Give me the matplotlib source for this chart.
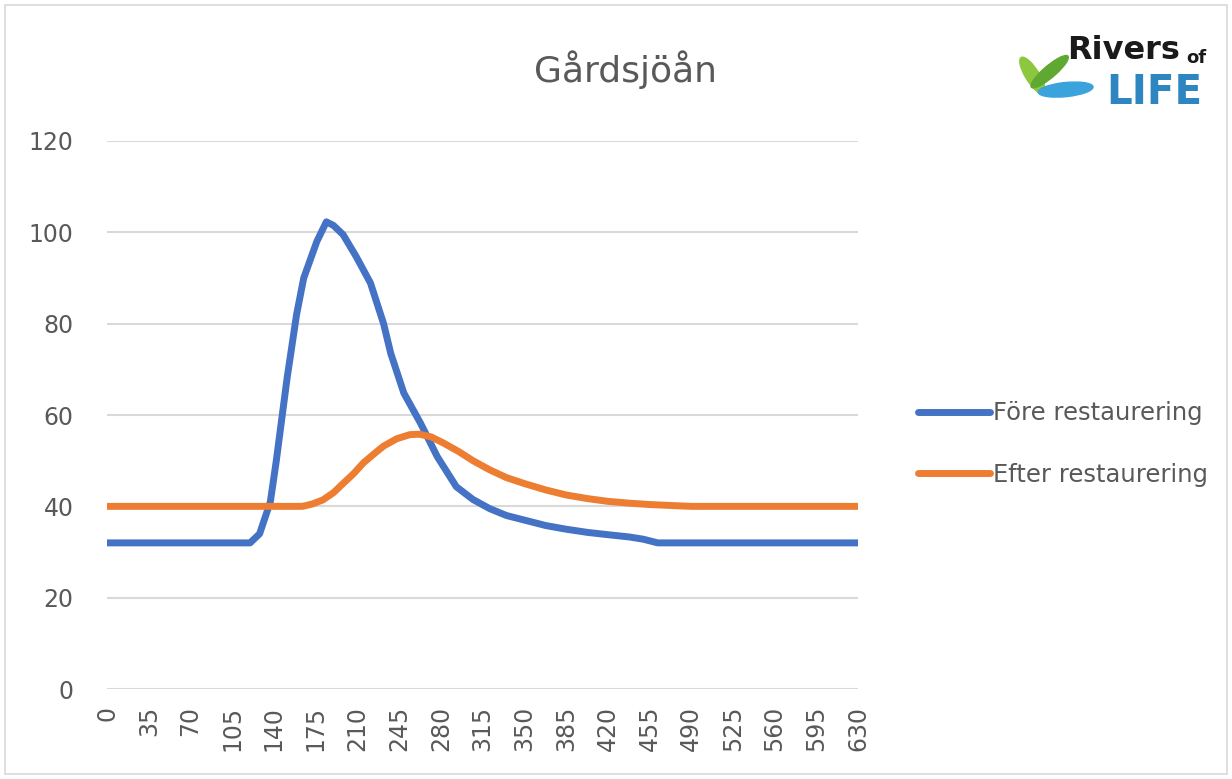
import matplotlib.pyplot as plt
from matplotlib.patches import Ellipse, Rectangle

# Gårdsjöån - flow before/after restoration
x_fore = [0, 35, 70, 105, 120, 128, 137, 142, 151, 159, 165, 176, 184, 190, 198, 209, 221, 232, 238,
          249, 263, 277, 293, 307, 321, 335, 350, 368, 385, 403, 420, 438, 450, 462, 490, 525, 560, 595, 630]
y_fore = [32, 32, 32, 32, 32, 34, 41, 50, 68, 82, 90, 98, 102.3, 101.5, 99.5, 94.7, 88.9, 80, 73.5,
          64.8, 58.2, 50.9, 44.3, 41.5, 39.5, 38, 37, 35.8, 35, 34.3, 33.8, 33.3, 32.8, 32, 32, 32, 32, 32, 32]

x_efter = [0, 35, 70, 105, 140, 164, 172, 181, 190, 198, 207, 215, 224, 232, 243, 254, 262, 272, 282,
           295, 307, 321, 335, 350, 368, 385, 403, 420, 438, 455, 472, 490, 525, 560, 595, 630]
y_efter = [40, 40, 40, 40, 40, 40, 40.5, 41.4, 43, 45, 47.2, 49.5, 51.5, 53.2, 54.8, 55.7, 55.8, 55.2, 53.9,
           52, 50, 48, 46.3, 45, 43.6, 42.5, 41.7, 41.1, 40.7, 40.4, 40.2, 40, 40, 40, 40, 40]

xticks = list(range(0, 631, 35))
yticks = [0, 20, 40, 60, 80, 100, 120]

blue = '#4472C4'
orange = '#ED7D31'
grey = '#595959'

fig = plt.figure(figsize=(12.32, 7.79), dpi=100)
fig.add_artist(Rectangle((0.004, 0.006), 0.992, 0.988, transform=fig.transFigure,
                         fill=False, edgecolor='#D9D9D9', linewidth=1.2))

ax = fig.add_axes([0.0869, 0.1155, 0.6095, 0.7035])
ax.plot(x_fore, y_fore, color=blue, linewidth=5, solid_capstyle='round', label='Före restaurering')
ax.plot(x_efter, y_efter, color=orange, linewidth=5, solid_capstyle='round', label='Efter restaurering')

ax.set_xlim(0, 630)
ax.set_ylim(0, 120)
ax.set_xticks(xticks)
ax.set_xticklabels([str(t) for t in xticks], rotation=90)
ax.set_yticks(yticks)
ax.tick_params(axis='both', length=0, labelcolor=grey)
ax.tick_params(axis='y', pad=24, labelsize=17)
ax.tick_params(axis='x', pad=12, labelsize=17)
ax.grid(axis='y', color='#D9D9D9', linewidth=1.5)
ax.set_axisbelow(True)
for s in ax.spines.values():
    s.set_visible(False)

fig.text(0.508, 0.91, 'Gårdsjöån', ha='center', va='center', fontsize=26, color=grey)

leg = fig.legend(loc='center left', bbox_to_anchor=(0.727, 0.43), frameon=False,
                 fontsize=17.5, handlelength=3.0, handletextpad=0.1, labelspacing=1.55)
for t in leg.get_texts():
    t.set_color(grey)

# Rivers of LIFE logo
fig.text(0.866, 0.935, 'Rivers', fontsize=23, fontweight='bold', color='#1a1a1a', va='center')
fig.text(0.963, 0.925, 'of', fontsize=13, fontweight='bold', color='#1a1a1a', va='center')
fig.text(0.898, 0.881, 'LIFE', fontsize=29, fontweight='bold', color='#2E86C1', va='center')
fig.add_artist(Ellipse((0.838, 0.903), 0.012, 0.05, angle=20, transform=fig.transFigure,
                       color='#8DC63F'))
fig.add_artist(Ellipse((0.852, 0.908), 0.012, 0.05, angle=-35, transform=fig.transFigure,
                       color='#5FA832'))
fig.add_artist(Ellipse((0.865, 0.885), 0.045, 0.018, angle=10, transform=fig.transFigure,
                       color='#3BA3DB'))

plt.savefig('out.png', dpi=100)
